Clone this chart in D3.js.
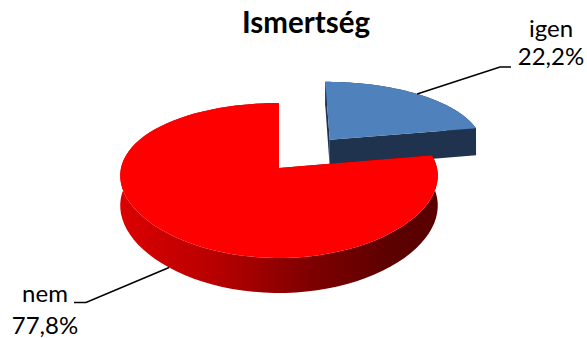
<!DOCTYPE html>
<html>
<head>
<meta charset="utf-8">
<script src="https://cdn.jsdelivr.net/npm/d3@7"></script>
<style>
  html, body { margin: 0; padding: 0; background: #fff; }
  svg { display: block; }
  text { font-family: Lato, "Open Sans", sans-serif; fill: #000; }
</style>
</head>
<body>
<svg id="chart" width="587" height="338"></svg>
<script>
// Data
const categories = ["igen", "nem"];
const shares = [22.2, 77.8];
const valueLabels = ["22,2%", "77,8%"];
const title = "Ismertség";

const topColors = ["#4f81bd", "#ff0000"];
const sideColors = ["#1f324e", "url(#redSide)"];
const explode = [0.52, 0];

const svg = d3.select("#chart");

// 3D pie projection: unit-disk coordinates (u right, v toward viewer), depth z (0 top, 1 bottom)
const cx = 279, cy = 168, A = 158, B = 75.5, perspX = 0.1, perspY = 0.161, thick = 29.4;
function project(u, v, z) {
  const sx = 1 / (1 - perspX * v);
  const sy = 1 / (1 - perspY * v);
  return [cx + A * u * sx, cy + B * v * sy + thick * z * sy];
}

const pie = d3.pie().sort(null).startAngle(0).endAngle(2 * Math.PI).value(d => d);
const arcs = pie(shares);

// Gradient for the red side wall
const defs = svg.append("defs");
const grad = defs.append("linearGradient")
  .attr("id", "redSide")
  .attr("gradientUnits", "userSpaceOnUse")
  .attr("x1", cx - A * 1.02).attr("x2", cx + A * 1.02)
  .attr("y1", 0).attr("y2", 0);
[[0, "#dc0000"], [0.3, "#b80000"], [0.6, "#7e0000"], [0.85, "#5c0000"], [1, "#5a0000"]]
  .forEach(([o, c]) => grad.append("stop").attr("offset", o).attr("stop-color", c));

const line = d3.line();

function slicePieces(a, i) {
  const mid = (a.startAngle + a.endAngle) / 2;
  const ou = explode[i] * Math.sin(mid), ov = -explode[i] * Math.cos(mid);
  const rim = (t, z) => project(ou + Math.sin(t), ov - Math.cos(t), z);
  const ctr = z => project(ou, ov, z);
  const n = 80;
  const ts = d3.range(n + 1).map(j => a.startAngle + (a.endAngle - a.startAngle) * j / n);
  const topPts = [ctr(0), ...ts.map(t => rim(t, 0))];
  const wallPts = [...ts.map(t => rim(t, 0)), ...ts.slice().reverse().map(t => rim(t, 1))];
  const face = t => [ctr(0), rim(t, 0), rim(t, 1), ctr(1)];
  return { topPts, wallPts, faceStart: face(a.startAngle), faceEnd: face(a.endAngle), rim, mid };
}

const pieces = arcs.map(slicePieces);

// Draw slices back to front: igen (far, exploded) then nem
const g = svg.append("g");
pieces.forEach((p, i) => {
  const s = g.append("g").attr("class", "slice-" + categories[i]);
  s.append("path").attr("d", line(p.wallPts) + "Z").attr("fill", sideColors[i]);
  s.append("path").attr("d", line(p.faceStart) + "Z").attr("fill", sideColors[i]);
  s.append("path").attr("d", line(p.faceEnd) + "Z").attr("fill", sideColors[i]);
  s.append("path").attr("d", line(p.topPts) + "Z").attr("fill", topColors[i]);
});

// Title
svg.append("text")
  .attr("x", 306).attr("y", 33)
  .attr("text-anchor", "middle")
  .style("font-weight", "bold")
  .style("font-size", "29.5px")
  .text(title);

// Data labels with leader lines
const labelSpec = [
  { anchorZ: 0, elbow: [500, 67], end: [511, 67], x: 551, y: [37, 65] },
  { anchorZ: 1, elbow: [86, 302.5], end: [74, 302.5], x: 45, y: [302, 334] }
];
labelSpec.forEach((L, i) => {
  const p = pieces[i];
  const a = p.rim(p.mid, L.anchorZ);
  svg.append("path")
    .attr("d", line([a, L.elbow, L.end]))
    .attr("fill", "none").attr("stroke", "#000").attr("stroke-width", 1.6);
  const t = svg.append("text").attr("text-anchor", "middle").style("font-size", "24px");
  t.append("tspan").attr("x", L.x).attr("y", L.y[0]).text(categories[i]);
  t.append("tspan").attr("x", L.x).attr("y", L.y[1]).text(valueLabels[i]);
});
</script>
</body>
</html>
